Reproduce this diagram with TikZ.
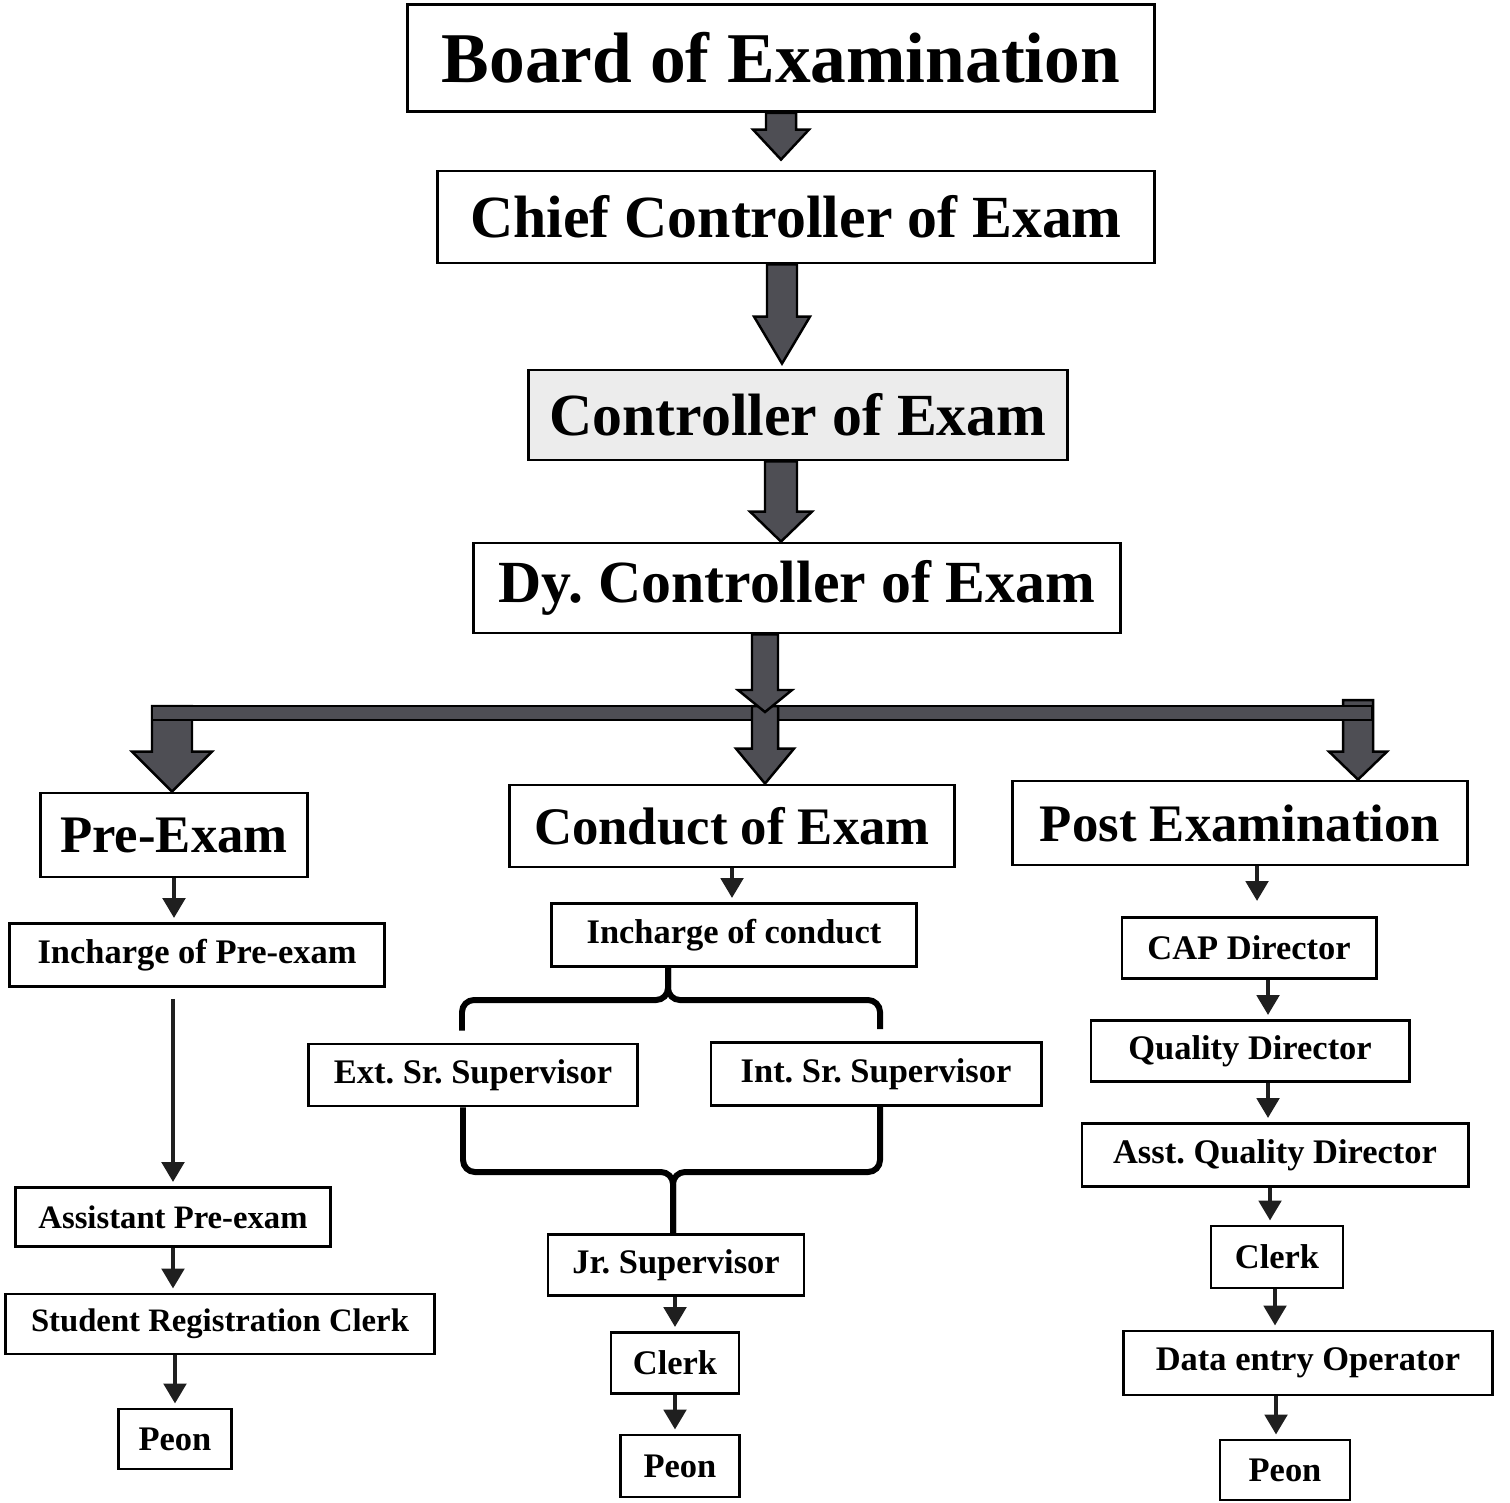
\documentclass[tikz,border=0pt]{standalone}
\usepackage{fontspec}
\setmainfont{Liberation Serif}
\usetikzlibrary{arrows.meta}
\usetikzlibrary{calc}
\definecolor{arrowgray}{RGB}{78,78,84}
\definecolor{boxgray}{RGB}{236,236,236}
\tikzset{
	block/.style={
		rectangle,
		align=center,
		line width=0.8pt,
		inner xsep=.2cm,
		inner ysep=0pt
	},
	boardbox/.style={block, font=\fontsize{20.3}{24}\selectfont\bfseries, minimum height=1.07cm},
	chainbox/.style={block, font=\fontsize{17}{20}\selectfont\bfseries, minimum height=.92cm},
	phasebox/.style={block, font=\fontsize{15}{18}\selectfont\bfseries, minimum height=.84cm},
	rolebox/.style={block, font=\fontsize{9.8}{12}\selectfont\bfseries, minimum height=.62cm},
	narrowrole/.style={rolebox, font=\fontsize{9.3}{11}\selectfont\bfseries},
	link/.style={-{Triangle[width=.22cm,length=.2cm]}, line width=1.4pt, draw=black!88, shorten >=.04cm},
	bracket/.style={line width=1.7pt, rounded corners=.12cm},
	blockarrow/.style n args={3}{
		draw=black, line width=0.7pt, fill=arrowgray,
		to path={let \p1=(\tikztostart), \p2=(\tikztotarget) in
			(\x1-#1,\y1) -- (\x1-#1,\y2+#3) -- (\x1-#2,\y2+#3) -- (\x1,\y2)
			-- (\x1+#2,\y2+#3) -- (\x1+#1,\y2+#3) -- (\x1+#1,\y1) -- cycle}
	}
}

\begin{document}
\begin{tikzpicture}[x=0.01cm, y=-0.01cm]
	\useasboundingbox (0,0) rectangle (1510,1502);

	% chain of command
	\node[draw, boardbox, minimum width=7.47cm] (Board) at (781,58) {Board of Examination};
	\node[draw, chainbox, minimum width=7.17cm] (Chief) at (796,217) {Chief Controller of Exam};
	\node[draw, chainbox, fill=boxgray, minimum width=5.39cm, minimum height=.9cm] (Ctrl) at (798,415) {Controller of Exam};
	\node[draw, chainbox, minimum width=6.47cm, minimum height=.9cm] (Dy) at (797,588) {Dy.\ Controller of Exam};

	% three phases
	\node[draw, phasebox, minimum width=2.66cm] (Pre) at (174,835) {Pre-Exam};
	\node[draw, phasebox, minimum width=4.45cm, minimum height=.82cm] (Cond) at (732,826) {Conduct of Exam};
	\node[draw, phasebox, minimum width=4.55cm] (Post) at (1240,823) {Post Examination};

	% pre-exam column
	\node[draw, rolebox, minimum width=3.75cm, minimum height=.63cm] (InPre) at (197,955) {Incharge of Pre-exam};
	\node[draw, narrowrole, minimum width=3.15cm, minimum height=.59cm] (AsstPre) at (173,1217) {Assistant Pre-exam};
	\node[draw, narrowrole, minimum width=4.28cm, minimum height=.6cm] (StuReg) at (220,1324) {Student Registration Clerk};
	\node[draw, rolebox, minimum width=1.13cm, minimum height=.6cm] (PeonPre) at (175,1439) {Peon};

	% conduct column
	\node[draw, rolebox, minimum width=3.64cm, minimum height=.63cm] (InCond) at (734,935) {Incharge of conduct};
	\node[draw, rolebox, minimum width=3.29cm] (ExtSr) at (473,1075) {Ext.\ Sr.\ Supervisor};
	\node[draw, rolebox, minimum width=3.3cm, minimum height=.63cm] (IntSr) at (876,1074) {Int.\ Sr.\ Supervisor};
	\node[draw, rolebox, minimum width=2.56cm, minimum height=.61cm] (JrSup) at (676,1265) {Jr.\ Supervisor};
	\node[draw, rolebox, minimum width=1.28cm, minimum height=.61cm] (ClerkCond) at (675,1363) {Clerk};
	\node[draw, rolebox, minimum width=1.19cm] (PeonCond) at (680,1466) {Peon};

	% post examination column
	\node[draw, rolebox, minimum width=2.54cm, minimum height=.61cm] (Cap) at (1249,948) {CAP Director};
	\node[draw, rolebox, minimum width=3.18cm, minimum height=.61cm] (Qual) at (1250,1051) {Quality Director};
	\node[draw, rolebox, minimum width=3.86cm, minimum height=.63cm] (AsstQual) at (1275,1155) {Asst.\ Quality Director};
	\node[draw, rolebox, minimum width=1.32cm] (ClerkPost) at (1277,1257) {Clerk};
	\node[draw, rolebox, minimum width=3.69cm, minimum height=.64cm] (DataOp) at (1308,1363) {Data entry Operator};
	\node[draw, rolebox, minimum width=1.3cm, minimum height=.6cm] (PeonPost) at (1285,1470) {Peon};

	% block arrows
	\draw[blockarrow={.15cm}{.28cm}{.3cm}] (Board.south) to ([yshift=.1cm]Chief.north);
	\draw[blockarrow={.15cm}{.28cm}{.47cm}] ([xshift=-.14cm]Chief.south) to ([yshift=.05cm]Ctrl.north);
	\draw[blockarrow={.16cm}{.31cm}{.3cm}] ([xshift=-.17cm]Ctrl.south) to (Dy.north);

	\coordinate (barL) at (172,706);
	\coordinate (barM) at (765,706);
	\coordinate (barR) at (1358,706);
	\draw[blockarrow={.2cm}{.4cm}{.4cm}] (barL) to (Pre.north);
	\draw[blockarrow={.15cm}{.29cm}{.28cm}] ($(barR)+(0,-6)$) to (Post.north);
	\filldraw[fill=arrowgray, line width=0.7pt] ($(barL)+(-20,0)$) rectangle ($(barR)+(14,14)$);
	\draw[blockarrow={.13cm}{.29cm}{.35cm}] (barM) to (Cond.north);
	\draw[blockarrow={.13cm}{.27cm}{.22cm}] ([xshift=-.32cm]Dy.south) to ($(barM)+(0,6)$);

	% pre-exam links
	\draw[link] (Pre.south) -- (Pre.south |- InPre.north);
	\draw[link] ($(InPre.south)+(-24,11)$) -- (AsstPre.north);
	\draw[link] (AsstPre.south) -- (AsstPre.south |- StuReg.north);
	\draw[link] (PeonPre.north |- StuReg.south) -- (PeonPre.north);

	% conduct links
	\draw[link] (Cond.south) -- (Cond.south |- InCond.north);
	\coordinate (topcusp) at (668,1000);
	\coordinate (botcusp) at (673,1172);
	\draw[bracket] ($(ExtSr.north)+(-11,-12)$) |- (topcusp) -- (topcusp |- InCond.south);
	\draw[bracket] ($(IntSr.north)+(4,-12)$) |- (topcusp) -- (topcusp |- InCond.south);
	\draw[bracket] ($(ExtSr.south)+(-10,0)$) |- (botcusp) -- (botcusp |- JrSup.north);
	\draw[bracket] ($(IntSr.south)+(4,0)$) |- (botcusp) -- (botcusp |- JrSup.north);
	\draw[link] (ClerkCond.north |- JrSup.south) -- (ClerkCond.north);
	\draw[link] (ClerkCond.south) -- (ClerkCond.south |- PeonCond.north);

	% post examination links
	\draw[link, shorten >=.15cm] ($(Post.south)+(17,0)$) -- ($(Cap.north)+(8,0)$);
	\draw[link] ($(Cap.south)+(19,0)$) -- ($(Qual.north)+(18,0)$);
	\draw[link] ($(Qual.south)+(18,0)$) -- ($(AsstQual.north)+(-7,0)$);
	\draw[link] ($(AsstQual.south)+(-5,0)$) -- ($(ClerkPost.north)+(-7,0)$);
	\draw[link] ($(ClerkPost.south)+(-2,0)$) -- ($(DataOp.north)+(-33,0)$);
	\draw[link] ($(DataOp.south)+(-32,0)$) -- ($(PeonPost.north)+(-9,0)$);
\end{tikzpicture}
\end{document}
